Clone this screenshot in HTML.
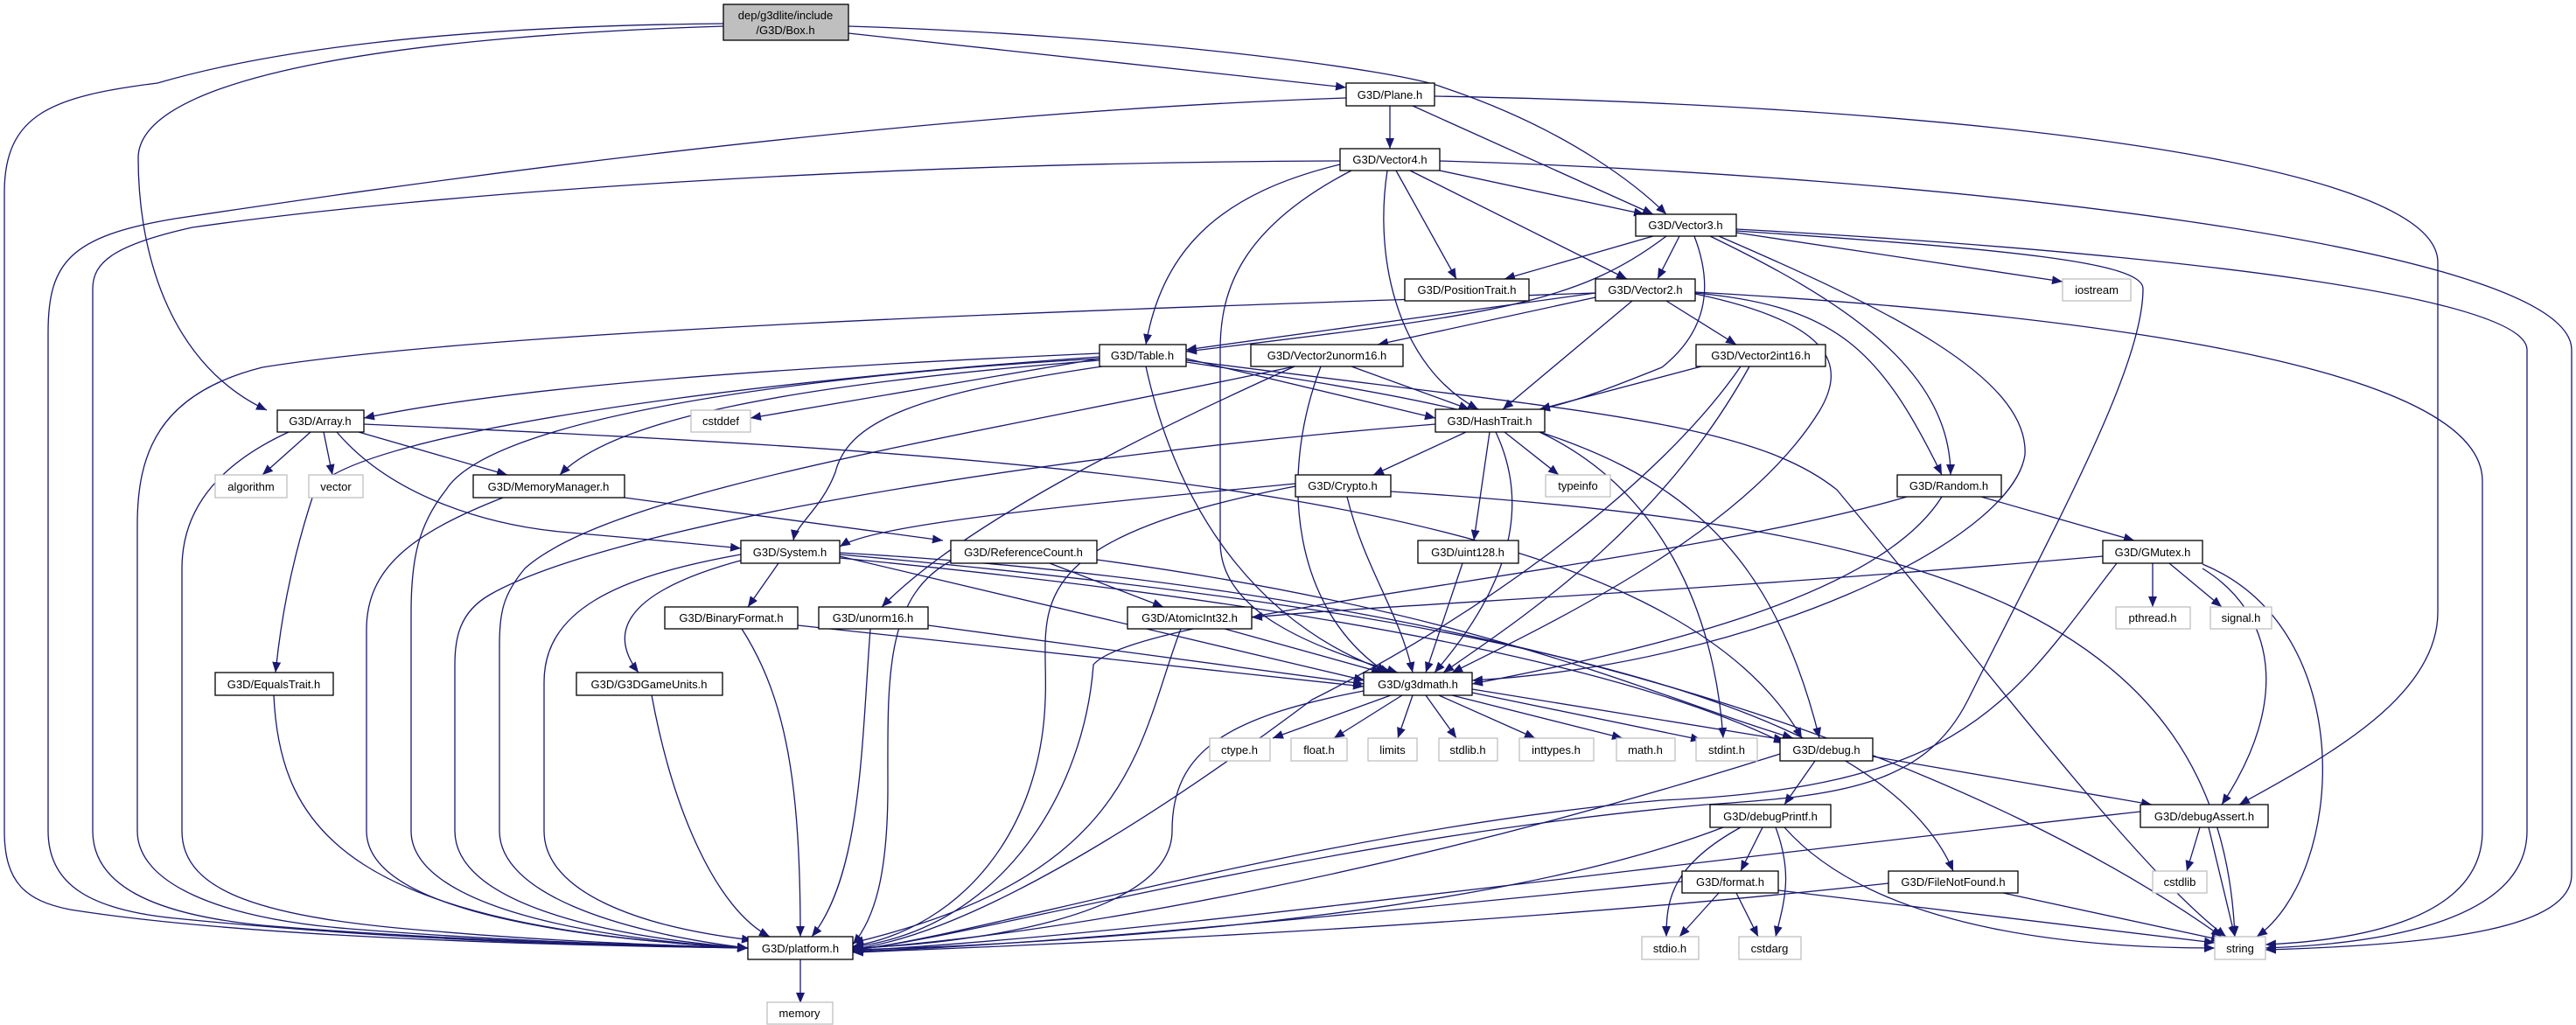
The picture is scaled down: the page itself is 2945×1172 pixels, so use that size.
<!DOCTYPE html>
<html><head><meta charset="utf-8"><style>
html,body{margin:0;padding:0;background:#fff}
svg{display:block}
text{font-family:"Liberation Sans","DejaVu Sans",sans-serif;font-size:13px;fill:#000}
.n{fill:#fff;stroke:#000;stroke-width:1.3}
.g{fill:#fff;stroke:#bfbfbf;stroke-width:1.3}
.e{fill:none;stroke:#191970;stroke-width:1.3}
</style></head><body>
<svg width="2945" height="1172" viewBox="0 0 2945 1172" xmlns="http://www.w3.org/2000/svg">
<defs><marker id="a" markerUnits="userSpaceOnUse" markerWidth="14" markerHeight="10" refX="12" refY="5" orient="auto"><path d="M0,0 L12,5 L0,10 z" fill="#191970"/></marker></defs>
<g class="e" marker-end="url(#a)">
<path d="M827,27 C500,30 300,60 180,95 C60,110 5,130 5,220 L5,950 C5,1010 30,1030 80,1040 C300,1075 700,1082 855,1084"/>
<path d="M1539,112 C1000,130 400,220 200,250 C80,270 55,300 55,380 L55,950 C55,1010 100,1040 200,1050 C450,1075 700,1082 855,1084"/>
<path d="M1532,184 C1000,186 500,220 220,260 C130,280 106,300 106,330 L106,950 C106,1010 170,1045 300,1058 C500,1075 750,1082 855,1084"/>
<path d="M1824,335 C1400,350 600,372 300,420 C180,450 157,520 157,600 L157,950 C157,1010 250,1050 400,1062 C600,1078 780,1082 855,1084"/>
<path d="M330,494 C230,540 208,600 208,650 L208,950 C208,1020 300,1050 500,1065 C650,1078 800,1082 855,1084"/>
<path d="M1257,410 C900,430 560,480 510,560 C478,600 470,640 470,700 L470,950 C470,1030 650,1072 855,1084"/>
<path d="M575,569 C470,610 419,650 419,720 L419,950 C419,1030 600,1070 855,1084"/>
<path d="M1641,485 C1200,520 700,600 560,680 C525,700 520,730 520,760 L520,950 C520,1030 680,1070 855,1084"/>
<path d="M1480,419 C1100,500 700,560 600,650 C575,680 571,700 571,740 L571,950 C571,1020 700,1065 855,1084"/>
<path d="M847,634 C700,660 622,700 622,780 L622,950 C622,1020 730,1060 860,1075"/>
<path d="M313,795 C320,950 400,1060 855,1084"/>
<path d="M745,795 C770,930 820,1040 880,1071"/>
<path d="M848,719 C900,800 915,900 915,1071"/>
<path d="M995,719 C985,850 985,1000 928,1071"/>
<path d="M1350,719 C1300,850 1300,1000 975,1078"/>
<path d="M1090,640 C1010,680 1015,780 1015,900 C1015,1000 1000,1050 975,1080"/>
<path d="M1481,556 C1150,620 1200,700 1195,800 C1190,950 1100,1060 975,1082"/>
<path d="M2180,568 C1900,650 1300,700 1250,760 C1240,900 1150,1060 975,1083"/>
<path d="M1559,790 C1400,820 1340,860 1340,950 C1340,1050 1100,1080 975,1084"/>
<path d="M2035,862 C1600,1000 1200,1070 975,1085"/>
<path d="M1970,946 C1700,1050 1200,1080 975,1086"/>
<path d="M2447,928 C1800,1000 1300,1070 975,1087"/>
<path d="M1923,1008 C1500,1050 1200,1080 975,1088"/>
<path d="M2159,1010 C1700,1060 1200,1080 975,1089"/>
<path d="M2420,644 C2300,800 2250,900 1900,915 C1500,950 1100,1075 975,1086"/>
<path d="M1985,264 C2300,285 2450,300 2450,330 C2450,420 2350,600 2250,800 C2200,900 2100,910 1950,920 C1500,960 1100,1075 975,1086"/>
<path d="M1990,419 C1900,550 1700,700 1500,800 C1300,950 1100,1070 975,1085"/>
<path d="M827,30 C500,40 160,80 158,180 C158,300 200,420 305,469"/>
<path d="M970,38 L1539,100"/>
<path d="M970,30 C1300,40 1600,80 1650,100 C1800,150 1880,220 1905,245"/>
<path d="M1589,121 L1589,170"/>
<path d="M1615,121 L1890,245"/>
<path d="M1640,110 C2200,120 2787,180 2787,300 L2787,700 C2787,800 2650,870 2560,920"/>
<path d="M1646,195 L1880,245"/>
<path d="M1612,195 L1860,319"/>
<path d="M1596,195 L1665,319"/>
<path d="M1532,188 C1400,220 1330,280 1310,394"/>
<path d="M1586,195 C1570,300 1600,420 1690,468"/>
<path d="M1545,195 C1420,260 1395,330 1395,400 L1395,620 C1395,700 1500,740 1598,769"/>
<path d="M1646,184 C2200,200 2940,280 2940,400 L2940,1000 C2940,1060 2800,1080 2590,1086"/>
<path d="M1890,270 L1720,319"/>
<path d="M1920,270 L1895,319"/>
<path d="M1905,270 C1800,350 1700,360 1356,402"/>
<path d="M1937,270 C1960,330 1950,380 1900,420 C1850,440 1800,460 1760,468"/>
<path d="M1955,270 C2100,340 2230,420 2230,543"/>
<path d="M1985,266 L2358,322"/>
<path d="M1965,270 C2150,350 2320,430 2315,520 C2300,620 2000,760 1683,778"/>
<path d="M1985,262 C2500,290 2889,340 2889,400 L2889,950 C2889,1060 2700,1080 2590,1084"/>
<path d="M1824,335 L1356,400"/>
<path d="M1824,340 L1575,394"/>
<path d="M1905,344 L1985,394"/>
<path d="M1866,344 L1718,468"/>
<path d="M1938,335 C2100,350 2150,400 2220,543"/>
<path d="M1938,336 C2100,370 2110,420 2080,470 C2000,600 1800,700 1660,769"/>
<path d="M1938,334 C2400,360 2838,420 2838,550 L2838,950 C2838,1050 2700,1075 2590,1080"/>
<path d="M1257,404 C900,420 600,440 416,478"/>
<path d="M1257,410 L858,478"/>
<path d="M1257,408 C800,440 400,500 360,560 C330,650 320,720 315,769"/>
<path d="M1257,412 C900,440 700,480 640,543"/>
<path d="M1260,419 C1050,450 970,480 955,540 C940,580 910,600 907,618"/>
<path d="M1356,410 L1641,478"/>
<path d="M1310,419 C1350,600 1450,720 1590,769"/>
<path d="M1356,414 C1800,480 2000,520 2080,844"/>
<path d="M1356,412 C1800,470 2000,480 2100,560 C2300,800 2450,1000 2545,1071"/>
<path d="M1545,419 L1680,468"/>
<path d="M1510,419 C1460,550 1480,700 1585,769"/>
<path d="M1480,419 C1300,500 1100,600 1008,694"/>
<path d="M1945,419 L1760,468"/>
<path d="M2000,419 C1900,600 1750,700 1650,769"/>
<path d="M355,494 L300,543"/>
<path d="M370,494 L380,543"/>
<path d="M410,494 L580,543"/>
<path d="M385,494 C450,570 560,600 640,608 C720,615 800,622 847,627"/>
<path d="M416,485 C1200,520 1900,560 2060,844"/>
<path d="M1676,494 L1570,543"/>
<path d="M1720,494 L1782,543"/>
<path d="M1703,494 L1685,618"/>
<path d="M1710,494 C1760,600 1700,700 1640,769"/>
<path d="M1760,494 C1900,560 1960,700 1970,844"/>
<path d="M714,569 L1078,618"/>
<path d="M1481,553 C1200,580 1000,600 960,625"/>
<path d="M1540,568 C1560,650 1600,700 1615,769"/>
<path d="M1590,562 C2200,600 2540,700 2555,1071"/>
<path d="M2265,568 L2440,618"/>
<path d="M2220,568 C2150,680 1900,740 1683,782"/>
<path d="M890,644 L855,694"/>
<path d="M850,640 C700,680 700,730 730,769"/>
<path d="M960,636 L1560,778"/>
<path d="M960,634 C1700,700 2150,800 2233,996"/>
<path d="M960,632 C1800,680 2300,900 2540,1071"/>
<path d="M960,638 C1600,700 1900,780 2040,850"/>
<path d="M1200,644 L1330,694"/>
<path d="M1254,640 C1700,700 1900,800 2050,844"/>
<path d="M1672,644 L1630,769"/>
<path d="M2461,644 L2461,694"/>
<path d="M2480,644 L2540,694"/>
<path d="M2404,636 C1900,680 1600,690 1431,706"/>
<path d="M2518,650 C2600,700 2620,800 2540,920"/>
<path d="M2518,645 C2700,720 2680,1000 2580,1071"/>
<path d="M912,715 L1559,785"/>
<path d="M1061,715 L1559,782"/>
<path d="M1400,719 L1580,769"/>
<path d="M1590,795 L1455,844"/>
<path d="M1603,795 L1525,844"/>
<path d="M1615,795 L1598,844"/>
<path d="M1630,795 L1665,844"/>
<path d="M1645,795 L1755,844"/>
<path d="M1660,795 L1855,844"/>
<path d="M1683,792 L1945,846"/>
<path d="M1683,788 L2040,846"/>
<path d="M2075,870 L2040,920"/>
<path d="M2141,865 L2460,920"/>
<path d="M2015,946 L1990,996"/>
<path d="M1990,946 C1910,990 1905,1030 1905,1071"/>
<path d="M2030,946 C2050,1000 2040,1030 2030,1071"/>
<path d="M2040,946 C2150,1070 2400,1084 2532,1084"/>
<path d="M2515,946 L2500,996"/>
<path d="M2525,946 L2555,1071"/>
<path d="M1965,1021 L1920,1071"/>
<path d="M1985,1021 L2010,1071"/>
<path d="M2033,1018 L2532,1078"/>
<path d="M2290,1021 L2540,1075"/>
<path d="M915,1097 L915,1147"/>
</g>
<rect x="827" y="5" width="143" height="41" fill="#bfbfbf" stroke="#000" stroke-width="1.3"/>
<text x="898" y="22" text-anchor="middle">dep/g3dlite/include</text>
<text x="898" y="39" text-anchor="middle">/G3D/Box.h</text>
<g>
<rect class="n" x="1539" y="95" width="101" height="26"/><text x="1589" y="113" text-anchor="middle">G3D/Plane.h</text>
<rect class="n" x="1532" y="170" width="114" height="25"/><text x="1589" y="187" text-anchor="middle">G3D/Vector4.h</text>
<rect class="n" x="1870" y="245" width="115" height="25"/><text x="1927" y="262" text-anchor="middle">G3D/Vector3.h</text>
<rect class="n" x="1606" y="319" width="142" height="25"/><text x="1677" y="336" text-anchor="middle">G3D/PositionTrait.h</text>
<rect class="n" x="1824" y="319" width="114" height="25"/><text x="1881" y="336" text-anchor="middle">G3D/Vector2.h</text>
<rect class="g" x="2358" y="319" width="78" height="25"/><text x="2397" y="336" text-anchor="middle">iostream</text>
<rect class="n" x="1257" y="394" width="99" height="25"/><text x="1306" y="411" text-anchor="middle">G3D/Table.h</text>
<rect class="n" x="1430" y="394" width="174" height="25"/><text x="1517" y="411" text-anchor="middle">G3D/Vector2unorm16.h</text>
<rect class="n" x="1939" y="394" width="148" height="25"/><text x="2013" y="411" text-anchor="middle">G3D/Vector2int16.h</text>
<rect class="n" x="317" y="469" width="99" height="25"/><text x="366" y="486" text-anchor="middle">G3D/Array.h</text>
<rect class="g" x="790" y="469" width="68" height="25"/><text x="824" y="486" text-anchor="middle">cstddef</text>
<rect class="n" x="1641" y="468" width="125" height="26"/><text x="1703" y="486" text-anchor="middle">G3D/HashTrait.h</text>
<rect class="g" x="246" y="543" width="82" height="26"/><text x="287" y="561" text-anchor="middle">algorithm</text>
<rect class="g" x="353" y="543" width="62" height="26"/><text x="384" y="561" text-anchor="middle">vector</text>
<rect class="n" x="541" y="543" width="173" height="26"/><text x="627" y="561" text-anchor="middle">G3D/MemoryManager.h</text>
<rect class="n" x="1481" y="543" width="109" height="25"/><text x="1535" y="560" text-anchor="middle">G3D/Crypto.h</text>
<rect class="g" x="1767" y="543" width="74" height="25"/><text x="1804" y="560" text-anchor="middle">typeinfo</text>
<rect class="n" x="2169" y="543" width="119" height="25"/><text x="2228" y="560" text-anchor="middle">G3D/Random.h</text>
<rect class="n" x="847" y="618" width="113" height="26"/><text x="903" y="636" text-anchor="middle">G3D/System.h</text>
<rect class="n" x="1087" y="618" width="167" height="26"/><text x="1170" y="636" text-anchor="middle">G3D/ReferenceCount.h</text>
<rect class="n" x="1621" y="618" width="115" height="26"/><text x="1678" y="636" text-anchor="middle">G3D/uint128.h</text>
<rect class="n" x="2404" y="618" width="114" height="26"/><text x="2461" y="636" text-anchor="middle">G3D/GMutex.h</text>
<rect class="n" x="760" y="694" width="152" height="25"/><text x="836" y="711" text-anchor="middle">G3D/BinaryFormat.h</text>
<rect class="n" x="936" y="694" width="125" height="25"/><text x="998" y="711" text-anchor="middle">G3D/unorm16.h</text>
<rect class="n" x="1289" y="694" width="142" height="25"/><text x="1360" y="711" text-anchor="middle">G3D/AtomicInt32.h</text>
<rect class="g" x="2419" y="694" width="85" height="25"/><text x="2461" y="711" text-anchor="middle">pthread.h</text>
<rect class="g" x="2527" y="694" width="70" height="25"/><text x="2562" y="711" text-anchor="middle">signal.h</text>
<rect class="n" x="246" y="769" width="135" height="26"/><text x="313" y="787" text-anchor="middle">G3D/EqualsTrait.h</text>
<rect class="n" x="659" y="769" width="167" height="26"/><text x="742" y="787" text-anchor="middle">G3D/G3DGameUnits.h</text>
<rect class="n" x="1559" y="769" width="124" height="26"/><text x="1621" y="787" text-anchor="middle">G3D/g3dmath.h</text>
<rect class="g" x="1383" y="844" width="69" height="26"/><text x="1417" y="862" text-anchor="middle">ctype.h</text>
<rect class="g" x="1476" y="844" width="64" height="26"/><text x="1508" y="862" text-anchor="middle">float.h</text>
<rect class="g" x="1564" y="844" width="56" height="26"/><text x="1592" y="862" text-anchor="middle">limits</text>
<rect class="g" x="1645" y="844" width="67" height="26"/><text x="1678" y="862" text-anchor="middle">stdlib.h</text>
<rect class="g" x="1737" y="844" width="85" height="26"/><text x="1779" y="862" text-anchor="middle">inttypes.h</text>
<rect class="g" x="1848" y="844" width="67" height="26"/><text x="1881" y="862" text-anchor="middle">math.h</text>
<rect class="g" x="1939" y="844" width="70" height="26"/><text x="1974" y="862" text-anchor="middle">stdint.h</text>
<rect class="n" x="2035" y="844" width="106" height="26"/><text x="2088" y="862" text-anchor="middle">G3D/debug.h</text>
<rect class="n" x="1955" y="920" width="138" height="26"/><text x="2024" y="938" text-anchor="middle">G3D/debugPrintf.h</text>
<rect class="n" x="2447" y="920" width="146" height="26"/><text x="2520" y="938" text-anchor="middle">G3D/debugAssert.h</text>
<rect class="n" x="1923" y="996" width="110" height="25"/><text x="1978" y="1013" text-anchor="middle">G3D/format.h</text>
<rect class="n" x="2159" y="996" width="148" height="25"/><text x="2233" y="1013" text-anchor="middle">G3D/FileNotFound.h</text>
<rect class="g" x="2461" y="996" width="62" height="25"/><text x="2492" y="1013" text-anchor="middle">cstdlib</text>
<rect class="n" x="855" y="1071" width="120" height="26"/><text x="915" y="1089" text-anchor="middle">G3D/platform.h</text>
<rect class="g" x="1877" y="1071" width="65" height="26"/><text x="1909" y="1089" text-anchor="middle">stdio.h</text>
<rect class="g" x="1988" y="1071" width="71" height="26"/><text x="2023" y="1089" text-anchor="middle">cstdarg</text>
<rect class="g" x="2532" y="1071" width="58" height="26"/><text x="2561" y="1089" text-anchor="middle">string</text>
<rect class="g" x="877" y="1146" width="75" height="25"/><text x="914" y="1163" text-anchor="middle">memory</text>
</g>
</svg>
</body></html>
